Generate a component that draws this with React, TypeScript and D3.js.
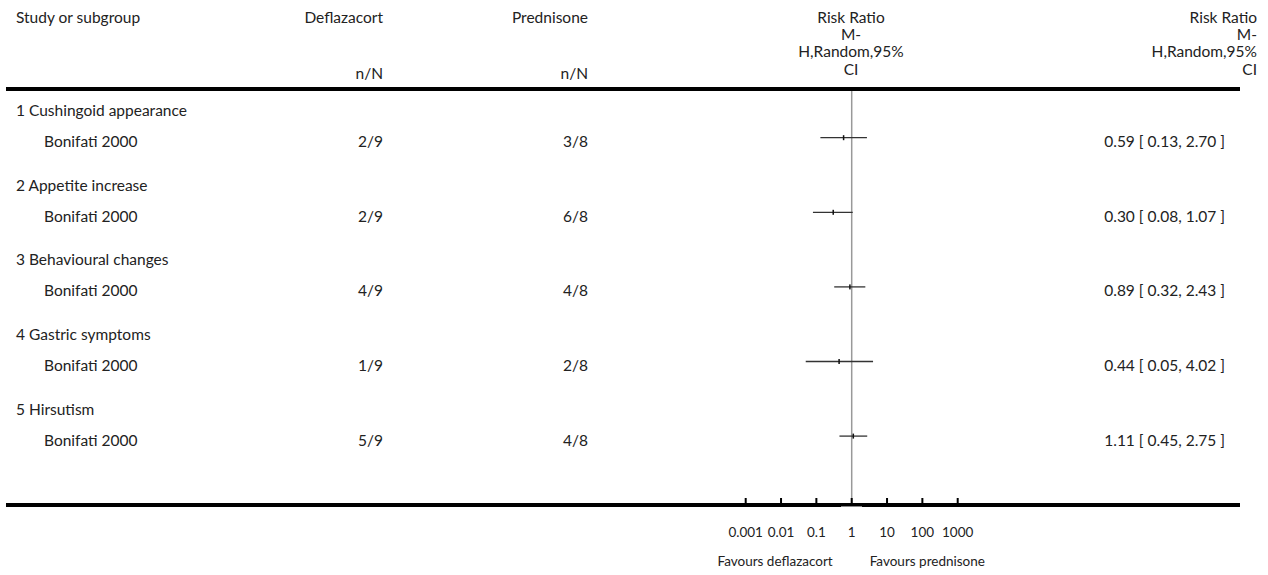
import React from "react";
import * as d3 from "d3";

const groups = ["1 Cushingoid appearance", "2 Appetite increase", "3 Behavioural changes", "4 Gastric symptoms", "5 Hirsutism"];
const studies = ["Bonifati 2000", "Bonifati 2000", "Bonifati 2000", "Bonifati 2000", "Bonifati 2000"];
const deflazacort = ["2/9", "2/9", "4/9", "1/9", "5/9"];
const prednisone = ["3/8", "6/8", "4/8", "2/8", "4/8"];
const rr = [0.59, 0.3, 0.89, 0.44, 1.11];
const lower = [0.13, 0.08, 0.32, 0.05, 0.45];
const upper = [2.7, 1.07, 2.43, 4.02, 2.75];
const tickValues = [0.001, 0.01, 0.1, 1, 10, 100, 1000];
const tickLabels = ["0.001", "0.01", "0.1", "1", "10", "100", "1000"];
const rrHeader = ["Risk Ratio", "M-", "H,Random,95%", "CI"];

const W = 1268;
const H = 575;
const FONT = "Lato, 'Open Sans', sans-serif";

export default function App() {
  const x = d3.scaleLog().domain([0.001, 1000]).range([745.7, 957.7]);
  const rowY = d3.scaleLinear().domain([0, 1]).range([137.7, 212.3]);
  const axisY = 505;
  const fmt = (v: number) => v.toFixed(2);
  const fmtLabel = (i: number) => `${fmt(rr[i])} [ ${fmt(lower[i])}, ${fmt(upper[i])} ]`;
  const txt = { fontFamily: FONT, fontSize: 15.5, fill: "#222" } as const;
  const hdrY = [23, 40, 57, 75];
  const leftX = 16;

  return (
    <svg width={W} height={H} style={{ position: "absolute", left: 0, top: 0, background: "#fff" }}>
      {/* header */}
      <text x={leftX} y={23} {...txt}>Study or subgroup</text>
      <text x={383} y={23} textAnchor="end" {...txt}>Deflazacort</text>
      <text x={588} y={23} textAnchor="end" {...txt}>Prednisone</text>
      <text x={383} y={79} textAnchor="end" {...txt}>n/N</text>
      <text x={588} y={79} textAnchor="end" {...txt}>n/N</text>
      {rrHeader.map((t, i) => (
        <text key={"m" + i} x={851} y={hdrY[i]} textAnchor="middle" {...txt}>{t}</text>
      ))}
      {rrHeader.map((t, i) => (
        <text key={"r" + i} x={1257} y={hdrY[i]} textAnchor="end" {...txt}>{t}</text>
      ))}
      <line x1={6} x2={1240} y1={89} y2={89} stroke="#000" strokeWidth={4} />

      {/* null line */}
      <line x1={x(1)} x2={x(1)} y1={91} y2={axisY - 2} stroke="#999" strokeWidth={1.5} />

      {groups.map((g, i) => {
        const y = rowY(i);
        return (
          <g key={g}>
            <text x={leftX} y={y - 21.5} {...txt}>{g}</text>
            <text x={44} y={y + 9.5} {...txt}>{studies[i]}</text>
            <text x={383} y={y + 9.5} textAnchor="end" {...txt}>{deflazacort[i]}</text>
            <text x={588} y={y + 9.5} textAnchor="end" {...txt}>{prednisone[i]}</text>
            <line x1={x(lower[i])} x2={x(upper[i])} y1={y} y2={y} stroke="#333" strokeWidth={1.3} />
            <rect x={x(rr[i]) - 0.75} y={y - 2.5} width={1.5} height={5} fill="#111" />
            <text x={1225} y={y + 9.5} textAnchor="end" {...txt}>{fmtLabel(i)}</text>
          </g>
        );
      })}

      {/* axis */}
      <line x1={6} x2={1240} y1={axisY} y2={axisY} stroke="#000" strokeWidth={4} />
      <line x1={841} x2={862} y1={axisY + 1.5} y2={axisY + 1.5} stroke="#888" strokeWidth={1} />
      {tickValues.map((v, i) => (
        <g key={"t" + i}>
          <line x1={x(v)} x2={x(v)} y1={axisY - 7} y2={axisY} stroke="#000" strokeWidth={2} />
          <text x={x(v)} y={537} textAnchor="middle" fontFamily={FONT} fontSize={13.5} fill="#222">{tickLabels[i]}</text>
        </g>
      ))}
      <text x={x(1) - 19} y={566} textAnchor="end" fontFamily={FONT} fontSize={13.5} fill="#222">Favours deflazacort</text>
      <text x={x(1) + 18} y={566} textAnchor="start" fontFamily={FONT} fontSize={13.5} fill="#222">Favours prednisone</text>
    </svg>
  );
}
